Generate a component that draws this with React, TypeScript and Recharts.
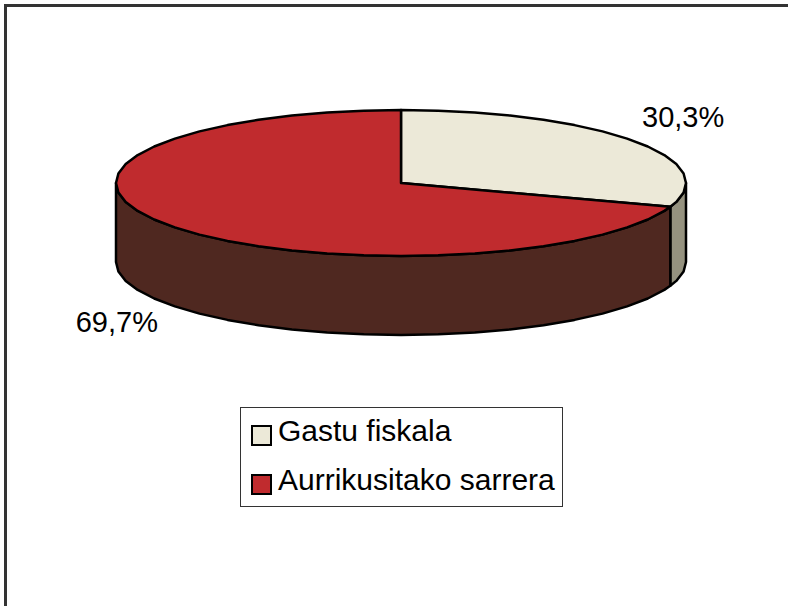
import { Legend, Pie, PieChart } from "recharts";

const categories = ["Gastu fiskala", "Aurrikusitako sarrera"];
const shares = [30.3, 69.7];
const topColors = ["#ECE9D8", "#C02B2E"];
const wallColors = ["#95927F", "#4F2820"];

const tableData = categories.map((name, i) => ({
  name,
  value: shares[i],
  fill: topColors[i],
  wall: wallColors[i],
}));

const FONT = '"Liberation Sans", Arial, sans-serif';
const SQUASH = 0.256;
const DEPTH = 79;
const FACET = 7.5; // the original rim is a coarse polygon, not a true ellipse

const toPoint = (cx: number, cy: number, rx: number, angle: number) => {
  const rad = (angle * Math.PI) / 180;
  return {
    x: cx + rx * Math.cos(rad),
    y: cy - rx * SQUASH * Math.sin(rad),
  };
};

// rim points going clockwise, from angle "from" down to angle "to"
const rimPoints = (cx: number, cy: number, rx: number, from: number, to: number) => {
  const angles = [from];
  let a = Math.ceil(from / FACET - 1) * FACET;
  while (a > to) {
    angles.push(a);
    a -= FACET;
  }
  angles.push(to);
  return angles.map((t) => toPoint(cx, cy, rx, t));
};

const joinPoints = (pts: { x: number; y: number }[]) =>
  pts.map((p) => `${p.x.toFixed(1)},${p.y.toFixed(1)}`).join(" L");

// the pie hands over its angles, each slice is then drawn as a tilted disc
function TiltedSlice(props: any) {
  const { cx, cy, outerRadius: rx, startAngle, endAngle, fill, payload } = props;
  const top = `M${cx},${cy} L${joinPoints(rimPoints(cx, cy, rx, startAngle, endAngle))} Z`;

  // only the front half of the rim shows
  const hi = Math.min(startAngle, 0);
  const lo = Math.max(endAngle, -180);
  let wall = null;
  if (hi > lo) {
    const upper = rimPoints(cx, cy, rx, hi, lo);
    const lower = upper.map((p) => ({ x: p.x, y: p.y + DEPTH })).reverse();
    const d = `M${joinPoints(upper)} L${joinPoints(lower)} Z`;
    wall = <path d={d} fill={payload.wall} stroke="#000" strokeWidth={2.5} strokeLinejoin="round" />;
  }

  return (
    <g>
      {wall}
      <path d={top} fill={fill} stroke="#000" strokeWidth={2.5} strokeLinejoin="round" />
    </g>
  );
}

function SliceLabel(props: any) {
  const { cx, cy, outerRadius: rx, midAngle, value } = props;
  const p = toPoint(cx, cy, rx, midAngle);
  const isRight = p.x > cx;
  const isLower = p.y > cy;
  return (
    <text
      x={p.x + (isRight ? 50 : -52)}
      y={p.y + (isLower ? DEPTH + 18 : -24)}
      textAnchor="middle"
      dominantBaseline="central"
      fontFamily={FONT}
      fontSize={29}
      fill="#000"
    >
      {`${String(value).replace(".", ",")}%`}
    </text>
  );
}

function LegendBox({ payload }: any) {
  return (
    <div
      style={{
        boxSizing: "border-box",
        width: 323,
        height: 100,
        border: "1px solid #333",
        background: "#fff",
        fontFamily: FONT,
        fontSize: 30,
        color: "#000",
      }}
    >
      {(payload || []).map((item: any) => (
        <div key={item.value} style={{ display: "flex", alignItems: "center", height: 48, paddingLeft: 10, marginTop: -1, marginBottom: 2 }}>
          <span
            style={{
              boxSizing: "border-box",
              display: "inline-block",
              width: 21,
              height: 21,
              marginTop: 8,
              marginRight: 6,
              background: item.color,
              border: "2.5px solid #000",
            }}
          />
          <span>{item.value}</span>
        </div>
      ))}
    </div>
  );
}

export default function App() {
  return (
    <div style={{ position: "absolute", left: 0, top: 0, width: 788, height: 606, overflow: "hidden", background: "#fff" }}>
      <div
        style={{
          position: "absolute",
          left: 4,
          top: 4,
          width: 784,
          height: 602,
          borderLeft: "3px solid #333",
          borderTop: "3px solid #333",
          boxSizing: "border-box",
        }}
      />
      <PieChart width={788} height={606} margin={{ top: 0, right: 0, bottom: 0, left: 0 }}>
        <Pie
          data={tableData}
          dataKey="value"
          nameKey="name"
          cx={401}
          cy={183}
          outerRadius={285}
          startAngle={90}
          endAngle={-270}
          stroke="#000"
          isAnimationActive={false}
          shape={TiltedSlice}
          label={SliceLabel}
          labelLine={false}
        />
        <Legend
          content={LegendBox}
          itemSorter={null}
          wrapperStyle={{ left: 240, top: 407, width: 323, height: 100, bottom: "auto" }}
        />
      </PieChart>
    </div>
  );
}
